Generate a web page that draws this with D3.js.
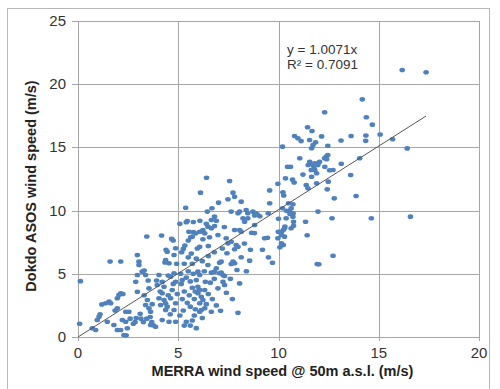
<!DOCTYPE html>
<html>
<head>
<meta charset="utf-8">
<script src="https://cdn.jsdelivr.net/npm/d3@7"></script>
<style>
  body { margin: 0; background: #fff; }
  svg { display: block; font-family: "Liberation Sans", Arial, sans-serif; }
</style>
</head>
<body>
<svg id="chart" width="500" height="389"></svg>
<script>
// [MERRA @50m, Dokdo ASOS] wind speed pairs (m/s)
var windPairs = [
  [0.08,1.05],[0.12,4.42],[0.71,0.69],[0.88,0.55],[0.96,1.34],[1.05,1.6],[1.1,1.8],[1.19,2.58],
  [1.38,2.67],[1.46,1.21],[1.55,2.8],[1.6,5.97],[1.63,2.67],[1.79,0.95],[1.85,2.1],[1.96,3.06],
  [1.96,0.55],[1.96,2.27],
  [2.04,3.32],[2.13,3.46],[2.13,5.97],[2.13,0.55],[2.21,1.34],[2.24,3.4],[2.29,0.16],[2.38,2.0],
  [2.38,1.21],[2.46,0.69],[2.4,0.13],[2.54,2.0],[2.6,1.45],[2.76,1.05],[2.85,1.18],[2.88,4.37],
  [2.96,6.49],[2.96,4.91],[2.96,3.58],[3.04,5.96],[3.04,5.7],[2.9,1.5],
  [3.1,1.84],[3.14,1.45],[3.2,5.17],[3.26,1.18],[3.3,5.26],[3.37,4.91],[3.37,2.53],[3.43,7.95],
  [3.43,1.45],[3.46,2.93],[3.5,4.47],[3.54,3.85],[3.54,2.27],[3.6,1.58],[3.62,2.0],[3.62,0.95],
  [3.68,1.18],[3.76,0.92],[3.87,0.81],[3.95,4.11],[3.92,4.47],[3.3,3.3],[3.7,2.6],
  [4.04,4.91],[4.04,3.06],[4.12,2.53],[4.17,8.03],[4.2,4.37],[4.2,3.46],[4.2,1.34],[4.29,3.98],
  [4.29,2.93],[4.37,6.09],[4.37,2.67],[4.37,2.14],[4.34,5.9],[4.39,6.9],[4.45,6.75],[4.45,2.4],
  [4.5,4.87],[4.54,5.83],[4.54,1.21],[4.62,4.77],[4.62,3.06],[4.67,7.76],[4.75,7.63],[4.7,3.72],
  [4.75,4.2],[4.79,6.49],[4.79,5.04],[4.79,2.14],[4.87,7.02],[4.87,4.37],[4.87,2.67],[4.87,1.21],
  [4.92,5.79],[4.1,3.6],[4.5,3.3],[4.6,1.8],[4.95,3.4],
  [5.08,1.7],[5.08,8.95],[5.12,5.0],[5.17,6.7],[5.2,4.5],[5.25,6.97],[5.25,2.1],[5.3,3.6],
  [5.33,7.24],[5.37,10.23],[5.4,9.08],[5.45,9.18],[5.4,4.7],[5.45,2.7],[5.5,7.63],[5.53,8.33],
  [5.5,5.2],[5.55,3.3],[5.6,4.4],[5.62,7.89],[5.6,2.4],[5.6,0.9],[5.7,7.94],[5.7,5.8],
  [5.7,3.9],[5.7,1.3],[5.75,8.3],[5.75,9.1],[5.75,5.0],[5.8,3.0],[5.8,1.7],[5.87,8.2],
  [5.85,2.2],[5.9,6.2],[5.9,4.5],[5.95,7.0],[5.98,3.98],[5.98,3.46],[5.98,5.17],[5.3,5.8],
  [5.2,3.0],[5.4,1.2],[5.5,6.3],[5.9,0.7],[5.3,0.9],[5.15,4.2],[5.65,6.6],[5.85,3.6],
  [6.07,7.14],[6.07,4.91],[6.07,3.72],[6.07,2.67],[6.07,2.0],[6.08,9.2],[6.07,8.33],[6.11,11.42],
  [6.15,3.19],[6.15,2.14],[6.23,8.47],[6.23,7.73],[6.23,2.93],[6.32,8.2],[6.32,3.72],[6.32,2.27],
  [6.35,4.37],[6.4,8.95],[6.41,12.6],[6.45,9.92],[6.48,5.7],[6.48,8.73],[6.5,6.4],[6.56,7.89],
  [6.65,9.26],[6.65,8.6],[6.65,5.09],[6.65,2.0],[6.68,10.18],[6.81,9.52],[6.81,8.78],[6.81,5.17],
  [6.9,9.2],[6.9,5.44],[6.98,8.07],[6.98,3.85],[6.2,6.0],[6.3,5.2],[6.5,3.4],[6.6,4.3],
  [6.8,6.7],[6.4,2.6],[6.7,3.0],[6.9,2.5],[6.2,1.5],[6.5,7.2],[6.8,4.6],
  [7.01,10.63],[7.06,5.88],[7.06,5.04],[7.11,2.08],[7.14,5.96],[7.14,5.09],[7.23,4.91],[7.23,4.37],
  [7.31,4.83],[7.31,4.11],[7.39,7.81],[7.43,6.62],[7.48,7.41],[7.48,10.9],[7.56,12.34],[7.64,9.92],
  [7.64,7.54],[7.64,5.78],[7.73,11.42],[7.73,5.96],[7.81,11.1],[7.81,8.47],[7.81,6.94],[7.81,5.83],
  [7.89,7.28],[7.93,5.3],[7.98,9.79],[7.98,7.14],[7.98,1.92],[7.2,7.0],[7.4,3.5],[7.6,4.6],
  [7.3,8.7],[7.7,3.0],
  [8.06,9.92],[8.06,8.47],[8.06,4.24],[8.14,10.71],[8.14,8.33],[8.14,6.31],[8.23,9.39],[8.31,9.12],
  [8.39,10.05],[8.47,9.79],[8.47,9.39],[8.56,6.04],[8.6,6.9],[8.66,8.25],[8.8,8.22],[8.72,9.92],
  [8.85,9.8],[8.94,9.7],[8.81,9.62],[8.81,8.86],[8.4,5.2],[8.3,7.4],
  [9.07,9.55],[9.49,9.79],[9.31,7.81],[9.45,7.85],[9.56,10.58],[9.56,11.6],[9.7,5.88],[9.97,12.13],
  [10.0,9.35],[9.99,8.33],[9.97,7.81],[9.2,6.9],[9.5,6.3],
  [10.07,7.1],[10.15,7.41],[10.24,7.28],[10.15,8.33],[10.2,10.18],[10.2,15.06],[10.22,11.45],[10.26,11.2],
  [10.24,8.47],[10.35,12.55],[10.32,8.73],[10.3,7.94],[10.45,13.47],[10.6,13.47],[10.4,9.99],[10.5,10.58],
  [10.72,10.5],[10.63,10.18],[10.55,9.92],[10.73,9.79],[10.57,9.73],[10.72,9.52],[10.38,9.39],[10.7,12.45],
  [10.78,12.22],[10.75,9.12],[10.75,8.8],[10.63,8.6],[10.3,8.6],[10.14,8.07],[10.8,15.9],
  [11.06,14.14],[10.97,15.72],[11.13,15.5],[11.22,12.85],[11.35,9.12],[11.38,12.03],[11.43,8.05],[11.45,16.6],
  [11.47,11.76],[11.48,13.61],[11.56,13.87],[11.55,15.59],[11.67,16.3],[11.63,13.21],[11.65,14.93],[11.65,12.68],
  [11.72,15.19],[11.72,13.61],[11.77,13.34],[11.81,13.74],[11.81,13.21],[11.98,13.74],[11.9,12.95],[11.9,12.16],
  [11.85,15.4],[11.93,5.78],[11.96,13.61],[11.97,9.92],
  [12.01,5.75],[12.05,13.87],[12.15,15.87],[12.3,17.78],[12.3,14.14],[12.31,13.47],[12.38,14.27],[12.4,14.06],
  [12.43,11.68],[12.46,15.13],[12.46,14.4],[12.48,12.29],[12.55,13.19],[12.67,9.39],[12.72,13.21],[12.72,6.43],
  [12.78,10.97],[13.12,15.54],[13.13,13.71],[13.6,12.82],[13.62,15.9],[13.87,11.16],[14.05,14.14],[14.18,18.8],
  [14.36,15.94],[14.35,15.52],[14.38,17.39],[14.63,9.39],[14.68,16.8],[15.07,16.02],[15.69,15.64],[16.17,21.12],
  [16.42,14.92],[16.58,9.52],[17.36,20.94]
];

var xTicks = [0, 5, 10, 15, 20];
var yTicks = [0, 5, 10, 15, 20, 25];
var trendSlope = 1.0071;
var trendEnd = 17.36;
var fitLabels = ["y = 1.0071x", "R\u00b2 = 0.7091"];

var svg = d3.select("#chart");

// outer frame
svg.append("rect").attr("x", 7.5).attr("y", 8.5).attr("width", 482).attr("height", 400)
  .style("fill", "none").style("stroke", "#b8b8b8").style("stroke-width", 1);

var plotLeft = 78, plotRight = 479, plotTop = 21, plotBottom = 337;

var x = d3.scaleLinear().domain([0, 20]).range([plotLeft, plotRight]);
var y = d3.scaleLinear().domain([0, 25]).range([plotBottom, plotTop]);

// gridlines
svg.append("g").selectAll("line").data(xTicks).enter().append("line")
  .attr("x1", d => Math.round(x(d)) + 0.5).attr("x2", d => Math.round(x(d)) + 0.5)
  .attr("y1", plotTop).attr("y2", plotBottom + 4)
  .style("stroke", "#a6a6a6").style("stroke-width", 1);

svg.append("g").selectAll("line").data(yTicks).enter().append("line")
  .attr("x1", plotLeft - 6).attr("x2", plotRight)
  .attr("y1", d => Math.round(y(d)) + 0.5).attr("y2", d => Math.round(y(d)) + 0.5)
  .style("stroke", "#a6a6a6").style("stroke-width", 1);

// tick labels
svg.append("g").selectAll("text").data(yTicks).enter().append("text")
  .attr("x", plotLeft - 12).attr("y", d => y(d) + 5)
  .attr("text-anchor", "end")
  .style("font-size", "15px").style("fill", "#333")
  .text(d => d);

svg.append("g").selectAll("text").data(xTicks).enter().append("text")
  .attr("x", d => x(d)).attr("y", 358)
  .attr("text-anchor", "middle")
  .style("font-size", "15px").style("fill", "#333")
  .text(d => d);

// points
svg.append("g").selectAll("ellipse").data(windPairs).enter().append("ellipse")
  .attr("cx", d => x(d[0])).attr("cy", d => y(d[1]))
  .attr("rx", 2.8).attr("ry", 2.3)
  .style("fill", "#4f81bd");

// linear trend through origin
svg.append("line")
  .attr("x1", x(0)).attr("y1", y(0))
  .attr("x2", x(trendEnd)).attr("y2", y(trendEnd * trendSlope))
  .style("stroke", "#555").style("stroke-width", 1);

svg.append("g").selectAll("text").data(fitLabels).enter().append("text")
  .attr("x", 287).attr("y", (d, i) => 54 + i * 14.5)
  .style("font-size", "13.5px").style("fill", "#333")
  .text(d => d);

// axis titles
svg.append("text")
  .attr("x", (plotLeft + plotRight) / 2 + 4).attr("y", 376)
  .attr("text-anchor", "middle")
  .style("font-size", "14.5px").style("font-weight", "bold").style("fill", "#222")
  .text("MERRA wind speed @ 50m a.s.l. (m/s)");

svg.append("text")
  .attr("transform", "translate(36," + ((plotTop + plotBottom) / 2 + 7) + ") rotate(-90)")
  .attr("text-anchor", "middle")
  .style("font-size", "14.5px").style("font-weight", "bold").style("fill", "#222")
  .text("Dokdo ASOS wind speed (m/s)");
</script>
</body>
</html>
